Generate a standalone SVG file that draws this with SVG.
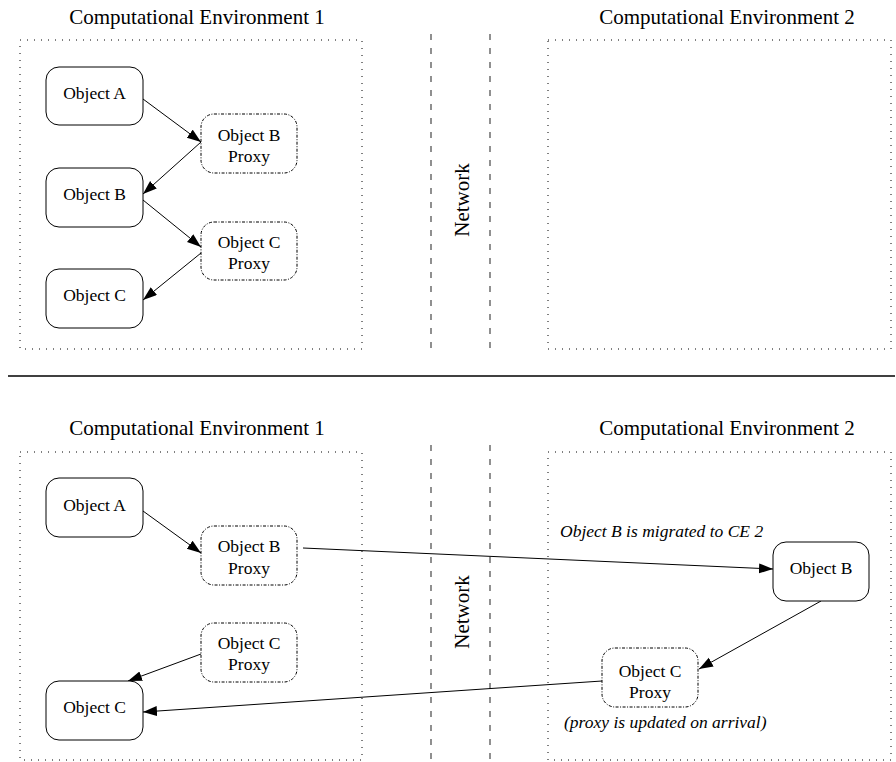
<svg xmlns="http://www.w3.org/2000/svg" width="896" height="762" viewBox="0 0 896 762">
<style>
text{font-family:'Liberation Serif','Times New Roman','DejaVu Serif',serif;fill:#000}
.title{font-size:21px;text-anchor:middle}
.lbl{font-size:17.5px;text-anchor:middle}
.it{font-size:17.5px;font-style:italic}
.env{fill:none;stroke:#000;stroke-width:1;stroke-dasharray:1 6}
.net{fill:none;stroke:#555;stroke-width:1.3;stroke-dasharray:6 8}
.obj{fill:#fff;stroke:#000;stroke-width:1}
.proxy{fill:#fff;stroke:#000;stroke-width:1;stroke-dasharray:3 1.5 1 1.5}
.conn{fill:none;stroke:#000;stroke-width:1;marker-end:url(#ah)}
</style>
<defs>
<marker id="ah" markerUnits="userSpaceOnUse" markerWidth="15" markerHeight="11" refX="14" refY="5" orient="auto">
<path d="M0,0 L14,5 L0,10 z" fill="#000"/>
</marker>
</defs>
<rect width="896" height="762" fill="#fff"/>

<g id="top-panel">
<text class="title" x="197" y="24">Computational Environment 1</text>
<text class="title" x="727" y="24">Computational Environment 2</text>
<rect class="env" x="20" y="40" width="342" height="309"/>
<rect class="env" x="548" y="40" width="343" height="309"/>
<line class="net" x1="431" y1="34" x2="431" y2="356"/>
<line class="net" x1="490" y1="34" x2="490" y2="356"/>
<text class="title" transform="translate(469,200) rotate(-90)">Network</text>
</g>

<line id="separator" x1="8" y1="376" x2="895" y2="376" stroke="#000" stroke-width="1.3"/>

<g id="bottom-panel">
<text class="title" x="197" y="435">Computational Environment 1</text>
<text class="title" x="727" y="435">Computational Environment 2</text>
<rect class="env" x="20" y="452" width="342" height="308"/>
<rect class="env" x="548" y="452" width="343" height="308"/>
<line class="net" x1="431" y1="445" x2="431" y2="762"/>
<line class="net" x1="490" y1="445" x2="490" y2="762"/>
<text class="title" transform="translate(469,612) rotate(-90)">Network</text>
</g>

<g id="connectors">
<line class="conn" x1="143" y1="99" x2="201" y2="142"/>
<line class="conn" x1="201" y1="142" x2="143" y2="194"/>
<line class="conn" x1="143" y1="200" x2="201" y2="247"/>
<line class="conn" x1="201" y1="253" x2="143" y2="300"/>
<line class="conn" x1="143" y1="511" x2="201" y2="553"/>
<line class="conn" x1="303" y1="548" x2="773" y2="569"/>
<line class="conn" x1="821" y1="601" x2="699" y2="669"/>
<line class="conn" x1="602" y1="681" x2="143" y2="712"/>
<line class="conn" x1="201" y1="654" x2="128" y2="681"/>
</g>

<g id="t-objA"><rect class="obj" x="46" y="67" width="97" height="58" rx="13"/><text class="lbl" x="94.5" y="99">Object A</text></g>
<g id="t-objB"><rect class="obj" x="46" y="168" width="97" height="59" rx="13"/><text class="lbl" x="94.5" y="200">Object B</text></g>
<g id="t-objC"><rect class="obj" x="46" y="269" width="97" height="59" rx="13"/><text class="lbl" x="94.5" y="301">Object C</text></g>
<g id="t-proxyB"><rect class="proxy" x="201" y="114" width="96" height="59" rx="13"/><text class="lbl" x="249" y="141">Object B</text><text class="lbl" x="249" y="162">Proxy</text></g>
<g id="t-proxyC"><rect class="proxy" x="201" y="222" width="96" height="58" rx="13"/><text class="lbl" x="249" y="248">Object C</text><text class="lbl" x="249" y="269">Proxy</text></g>

<g id="b-objA"><rect class="obj" x="46" y="478" width="97" height="59" rx="13"/><text class="lbl" x="94.5" y="511">Object A</text></g>
<g id="b-proxyB"><rect class="proxy" x="201" y="526" width="96" height="59" rx="13"/><text class="lbl" x="249" y="552">Object B</text><text class="lbl" x="249" y="574">Proxy</text></g>
<g id="b-proxyC"><rect class="proxy" x="201" y="623" width="96" height="59" rx="13"/><text class="lbl" x="249" y="649">Object C</text><text class="lbl" x="249" y="670">Proxy</text></g>
<g id="b-objC"><rect class="obj" x="46" y="681" width="97" height="59" rx="13"/><text class="lbl" x="94.5" y="713">Object C</text></g>
<g id="b-objB2"><rect class="obj" x="773" y="542" width="96" height="59" rx="13"/><text class="lbl" x="821" y="574">Object B</text></g>
<g id="b-proxyC2"><rect class="proxy" x="602" y="648" width="96" height="59" rx="13"/><text class="lbl" x="650" y="677">Object C</text><text class="lbl" x="650" y="698">Proxy</text></g>

<g id="notes">
<text class="it" x="560" y="537">Object B is migrated to CE 2</text>
<text class="it" x="564" y="728">(proxy is updated on arrival)</text>
</g>
</svg>
